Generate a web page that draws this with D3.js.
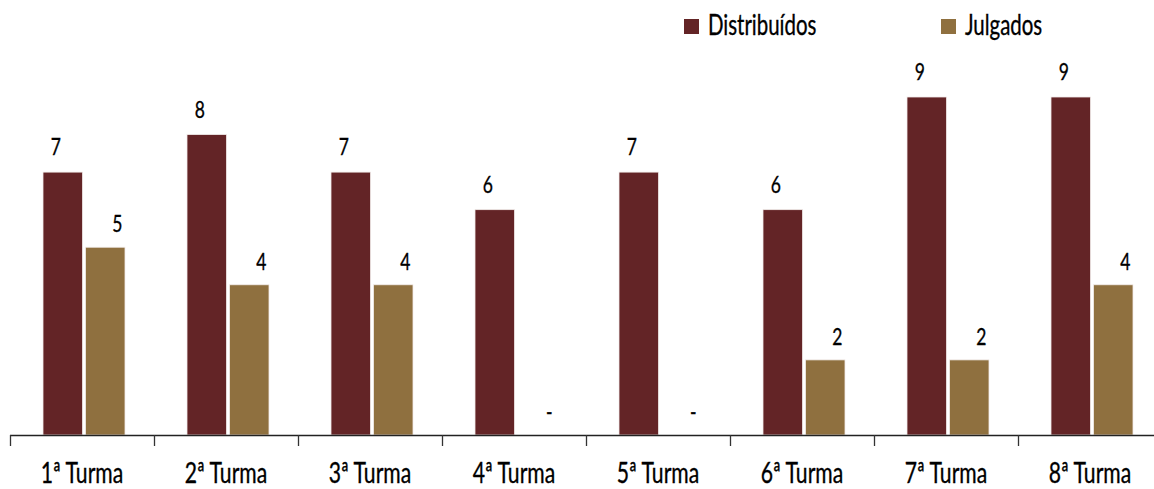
<!DOCTYPE html>
<html><head><meta charset="utf-8">
<script src="https://cdn.jsdelivr.net/npm/d3@7"></script>
<style>body{margin:0;background:#fff}svg{display:block}text{font-family:Lato,"DejaVu Sans",sans-serif;fill:#000}</style>
</head><body><svg id="c" width="1154" height="489"></svg>
<script>
const categories = ["1ª Turma","2ª Turma","3ª Turma","4ª Turma","5ª Turma","6ª Turma","7ª Turma","8ª Turma"];
const distribuidos = [7,8,7,6,7,6,9,9];
const julgados = [5,4,4,0,0,2,2,4];
const seriesNames = ["Distribuídos","Julgados"];
const colors = ["#632426","#8F703F"];

const SX = 0.73;
const svg = d3.select("#c");
function ctext(parent, x, y, size, anchor, str){
  return parent.append("text")
    .attr("transform",`translate(${x},${y}) scale(${SX},1)`)
    .attr("text-anchor",anchor).attr("font-size",size)
    .attr("stroke","#000").attr("stroke-width",0.35)
    .text(str);
}

const x = d3.scaleBand().domain(categories).range([10,1162]).paddingInner(0).paddingOuter(0);
const y = d3.scaleLinear().domain([0,9]).range([435,97]);
const sub = d3.scaleBand().domain([0,1]).range([33,115]).paddingInner(0.07);

const series = [distribuidos, julgados];
series.forEach((vals,si)=>{
  const g = svg.append("g");
  const data = vals.map((v,i)=>({v,c:categories[i]}));
  g.selectAll("rect").data(data.filter(d=>d.v>0))
    .enter().append("rect")
    .attr("x",d=>x(d.c)+sub(si)).attr("width",sub.bandwidth())
    .attr("y",d=>y(d.v)).attr("height",d=>y(0)-y(d.v))
    .attr("fill",colors[si]).attr("stroke","#f2ecea").attr("stroke-width",0.8);
  data.forEach(d=>{
    ctext(g, x(d.c)+sub(si)+sub.bandwidth()/2+(si===0?-7:12), y(d.v)-(si===0?17:15), 24, "middle", d.v>0?d.v:"-");
  });
});

const ag = svg.append("g").attr("transform","translate(0,435)");
ag.append("line").attr("x1",10).attr("x2",1162).attr("y1",0.5).attr("y2",0.5).attr("stroke","#222").attr("stroke-width",1.3);
ag.selectAll("line.t").data(d3.range(categories.length+1)).enter().append("line").attr("class","t")
  .attr("x1",i=>10+i*x.bandwidth()+0.5).attr("x2",i=>10+i*x.bandwidth()+0.5)
  .attr("y1",0).attr("y2",11).attr("stroke","#333").attr("stroke-width",1.3);
categories.forEach(c=>{
  ctext(ag, x(c)+x.bandwidth()/2, 48, 29, "middle", c);
});

const leg = svg.append("g");
const legX = [684,941];
seriesNames.forEach((n,i)=>{
  leg.append("rect").attr("x",legX[i]).attr("y",19).attr("width",15).attr("height",15).attr("fill",colors[i]);
  ctext(leg, legX[i]+24, 35, 28, "start", n);
});
</script></body></html>
